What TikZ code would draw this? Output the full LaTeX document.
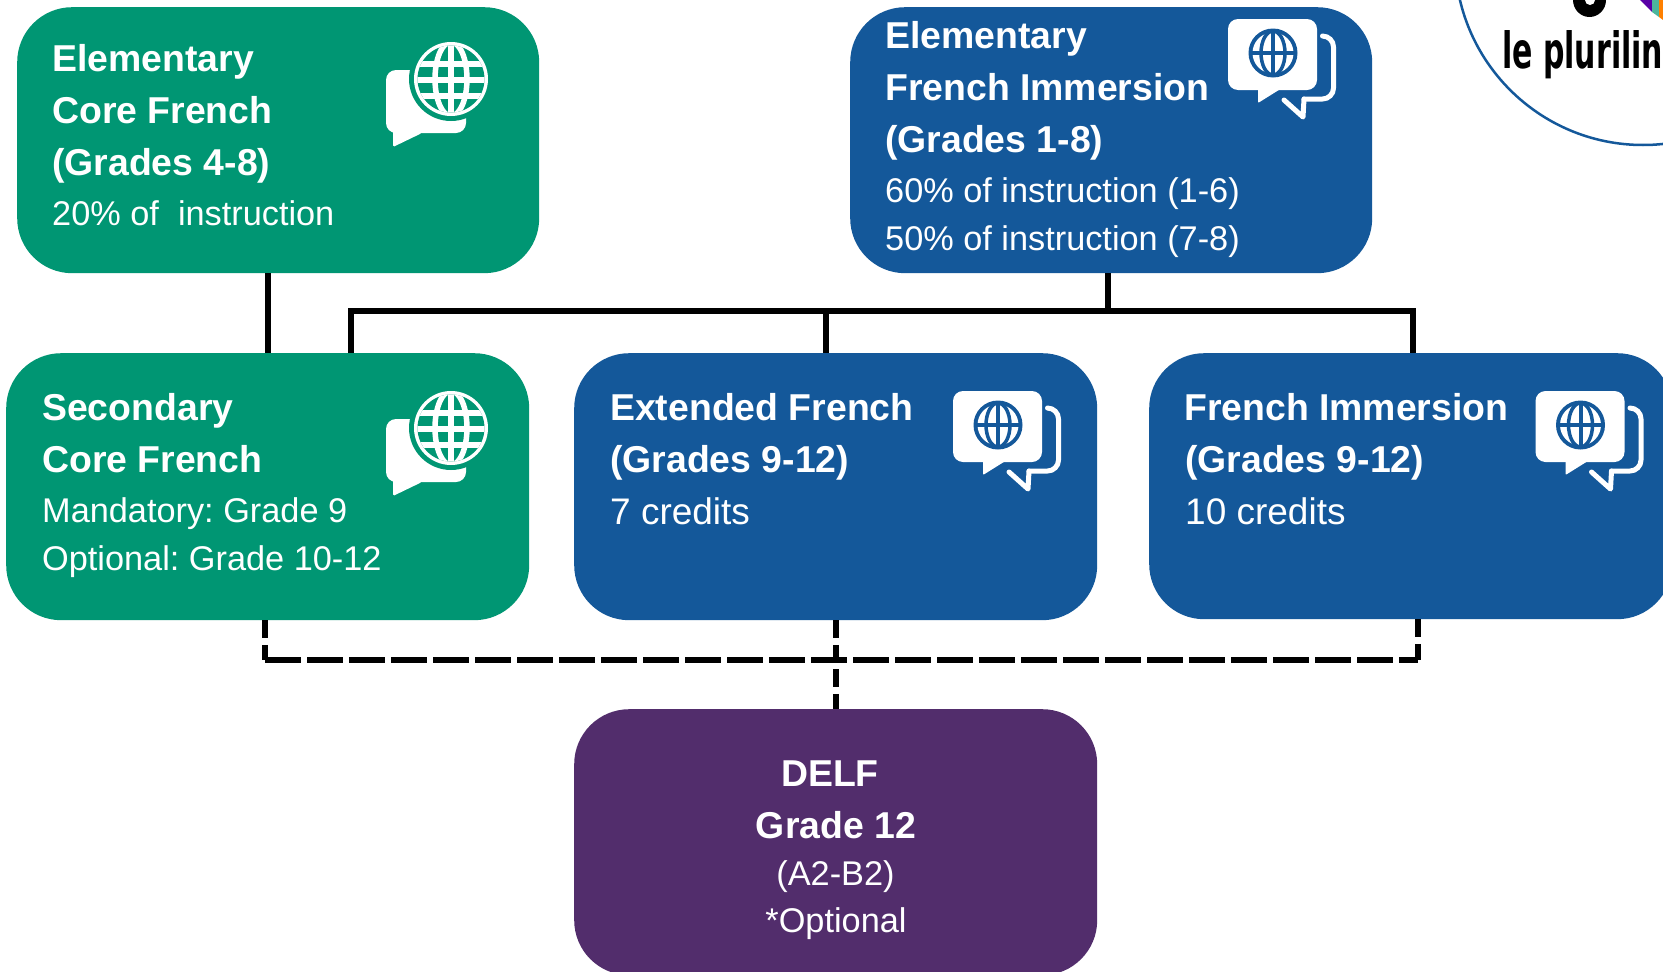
\documentclass[tikz,border=0pt]{standalone}
\usepackage{fontspec}
\setmainfont{Liberation Sans}
\newfontfamily\logofont{DejaVu Sans}
\frenchspacing
\definecolor{cgreen}{RGB}{0,150,115}
\definecolor{cblue}{RGB}{20,88,154}
\definecolor{cpurple}{RGB}{82,45,108}
\tikzset{
  card/.style={rounded corners=55pt,minimum width=523pt,minimum height=266pt,inner sep=0pt,anchor=north west},
  head/.style={anchor=base west,text=white,inner sep=0pt,font=\fontsize{37.4}{37}\selectfont\bfseries},
  body/.style={anchor=base west,text=white,inner sep=0pt,font=\fontsize{34.3}{34}\selectfont},
  bodybig/.style={body,font=\fontsize{37}{37}\selectfont},
  chead/.style={head,anchor=base},
  cbody/.style={body,anchor=base},
  solidline/.style={draw=black,line width=6pt},
  dashh/.style={draw=black,line width=6pt,dash pattern=on 36pt off 6pt},
  dashv/.style={draw=black,line width=6pt,dash pattern=on 18pt off 6.5pt},
  greenicon/.pic={
    \fill[white,rounded corners=10pt] (-65,-9) rectangle (15,54);
    \fill[white,rounded corners=1.5pt] (-58,50) -- (-58,68) -- (-29,54) -- cycle;
    \fill[cgreen] (0,0) circle[radius=42];
    \fill[white] (0,0) circle[radius=37];
    \begin{scope}
      \clip (0,0) circle[radius=33.5];
      \fill[cgreen] (-40,-40) rectangle (40,40);
      \draw[white,line width=5.5pt] (-40,-15) -- (40,-15) (-40,1) -- (40,1) (-40,17) -- (40,17) (0,-40) -- (0,40);
      \draw[white,line width=5.5pt] (0,0) ellipse[x radius=16,y radius=37];
    \end{scope}
  },
  blueicon/.pic={
    \fill[white,rounded corners=10pt] (-45,-34) rectangle (44,37);
    \fill[white,rounded corners=1pt] (-15,35) -- (-15,50) -- (9,35) -- cycle;
    \fill[cblue] (0,0) circle[radius=24.5];
    \fill[white] (0,0) circle[radius=20.5];
    \draw[cblue,line width=4pt] (0,-22) -- (0,22) (-22,0) -- (22,0);
    \draw[cblue,line width=3.5pt] (0,0) ellipse[x radius=12,y radius=22];
    \draw[white,line width=5pt,line cap=round,line join=round,rounded corners=11pt] (50,-17) -- (60.5,-17) -- (60.5,46) -- (31,46);
    \draw[white,line width=5pt,line cap=round,line join=round] (31,46) -- (30,64) -- (11,47);
  }
}
\begin{document}
\begin{tikzpicture}[x=1pt,y=-1pt]
\useasboundingbox (0,0) rectangle (1663,972);
\clip (0,0) rectangle (1663,972);
\fill[white] (0,0) rectangle (1663,972);
% logo fragment
\draw[cblue,line width=2.5pt] (1643,-43) circle[radius=188];
\fill[black] (1589.5,0) ellipse[x radius=16.5,y radius=17];
\fill[white] (1590,0) ellipse[x radius=5,y radius=5];
\fill[violet!70!blue] (1640,0) -- (1652,0) -- (1652,12) -- cycle;
\fill[cgreen!70!white] (1652,0) -- (1659,0) -- (1659,17) -- (1652,12) -- cycle;
\fill[orange] (1659,0) -- (1663,0) -- (1663,20) -- (1659,17) -- cycle;
\node[anchor=base west,inner sep=0pt,xscale=0.6,font=\fontsize{50}{50}\selectfont\logofont\bfseries] (logotext) at (1502,68) {le plurilin};
% boxes
\node[card,fill=cgreen,minimum width=522pt] (ecore) at (17,7) {};
\node[card,fill=cblue,minimum width=522pt] (eimm) at (850,7) {};
\node[card,fill=cgreen,minimum height=267pt] (score) at (6,353) {};
\node[card,fill=cblue,minimum height=267pt] (ext) at (574,353) {};
\node[card,fill=cblue] (fimm) at (1149,353) {};
\node[card,fill=cpurple] (delf) at (574,709) {};
% connectors
\coordinate (hl) at (351,311);
\coordinate (hm) at (826,311);
\coordinate (hr) at (1413,311);
\coordinate (hc) at (1108,311);
\draw[solidline] (ecore.south -| 268,0) -- (score.north -| 268,0);
\draw[solidline] (eimm.south -| hc) -- (hc);
\draw[solidline,line join=miter] (score.north -| hl) -- (hl) -- (hr) -- (fimm.north -| hr);
\draw[solidline] (hm) -- (ext.north -| hm);
\coordinate (dl) at (265,660);
\coordinate (dm) at (836,660);
\coordinate (dr) at (1418,660);
\draw[dashv] (score.south -| dl) -- (dl);
\draw[dashv] (ext.south -| dm) -- (delf.north -| dm);
\draw[dashv] (fimm.south -| dr) -- (dr);
\draw[dashh] (dl) -- (dr);
% texts
\node[head] (t1) at (52,71) {Elementary};
\node[head] (t2) at (52,123) {Core French};
\node[head] (t3) at (52,175) {(Grades 4-8)};
\node[body] (t4) at (52,225) {20\% of\ \ instruction};
\node[head] (t5) at (885,48) {Elementary};
\node[head] (t6) at (885,100) {French Immersion};
\node[head] (t7) at (885,152) {(Grades 1-8)};
\node[body] (t8) at (885,202) {60\% of instruction (1-6)};
\node[body] (t9) at (885,250) {50\% of instruction (7-8)};
\node[head] (t10) at (42,420) {Secondary};
\node[head] (t11) at (42,472) {Core French};
\node[body] (t12) at (42,522) {Mandatory: Grade 9};
\node[body] (t13) at (42,570) {Optional: Grade 10-12};
\node[head] (t14) at (610,420) {Extended French};
\node[head] (t15) at (610,472) {(Grades 9-12)};
\node[bodybig] (t16) at (610,524) {7 credits};
\node[head] (t17) at (1184,420) {French Immersion};
\node[head] (t18) at (1185,472) {(Grades 9-12)};
\node[bodybig] (t19) at (1185,524) {10 credits};
\node[chead] (t20) at (830,786) {DELF};
\node[chead] (t21) at (836,838) {Grade 12};
\node[cbody] (t22) at (835.5,885) {(A2-B2)};
\node[cbody] (t23) at (836,932) {*Optional};
% icons
\pic at (451,79) {greenicon};
\pic at (451,428) {greenicon};
\pic at (998,425) {blueicon};
\pic at (1580.5,425) {blueicon};
\pic at (1273,53) {blueicon};
\end{tikzpicture}
\end{document}
